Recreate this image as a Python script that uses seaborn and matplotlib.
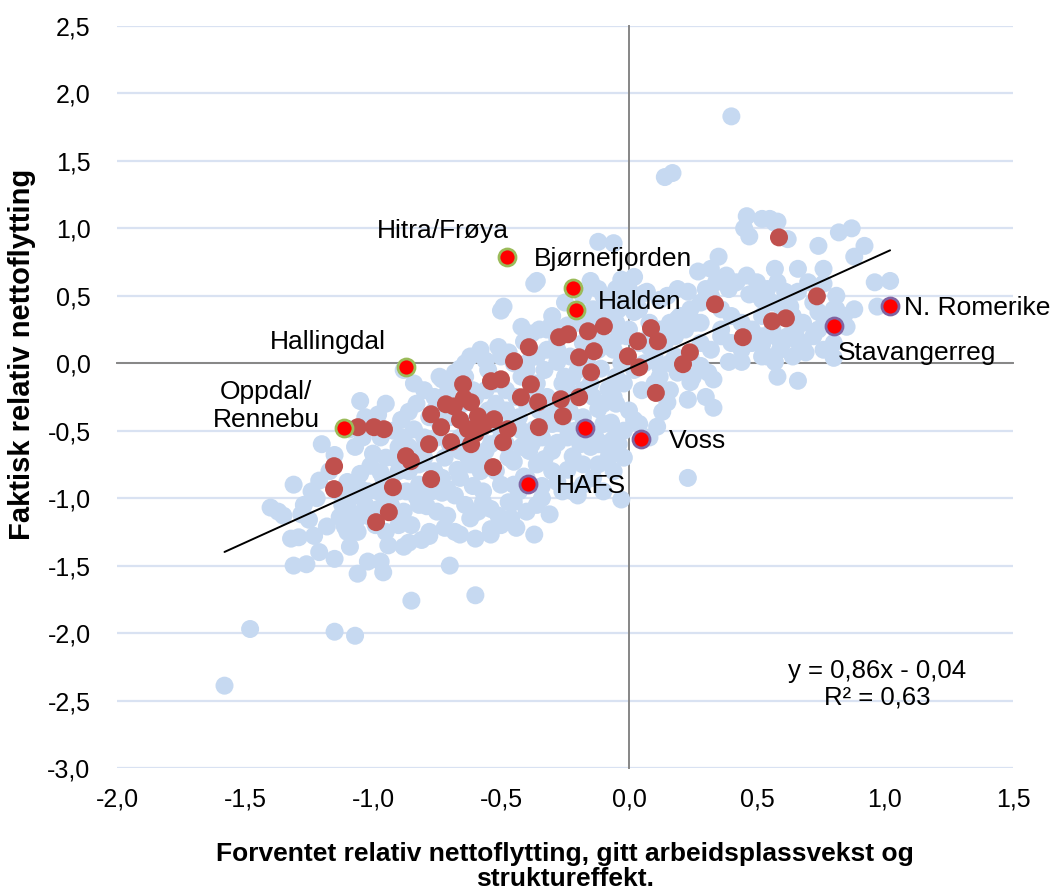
import numpy as np
import pandas as pd
import matplotlib
matplotlib.use("Agg")
import matplotlib.pyplot as plt
from matplotlib.ticker import FuncFormatter
import seaborn as sns

# ---------------- data ----------------
# all regions (light blue)
blue_x = [
    -1.58, -1.48, -1.15, -1.07, -0.85, -0.60, -0.70, -0.37, 0.40, 0.14,
    0.17, -1.40, -1.37, -1.31, -1.32, -1.29, -1.31, -1.26, -1.21, -1.22,
    -1.21, -1.23, -1.25, -1.28, -1.35, -1.24, -1.27, -1.20, -1.15, -1.18,
    -1.11, -1.13, -1.09, -1.09, -1.06, -1.06, -1.02, -1.05, -1.09, -1.05,
    -1.01, -1.01, -1.00, -1.17, -1.15, -1.14, -1.10, -1.12, -1.05, -1.03,
    -1.07, -1.04, -1.09, -1.03, -0.97, -0.96, -0.88, -0.86, -0.97, -0.90,
    -0.89, -0.84, -0.86, -0.83, -0.95, -0.93, -0.98, -0.90, -0.88, -0.85,
    -0.82, -0.80, -0.95, -0.97, -0.92, -0.86, -0.83, -0.80, -0.88, -0.84,
    -0.94, -0.90, -0.82, -0.99, -0.93, -0.87, -0.80, -0.81, -0.98, -0.95,
    -0.78, -0.78, -0.75, -0.79, -0.71, -0.68, -0.73, -0.66, -0.60, -0.68,
    -0.71, -0.63, -0.67, -0.71, -0.61, -0.76, -0.72, -0.75, -0.78, -0.74,
    -0.76, -0.70, -0.66, -0.64, -0.62, -0.68, -0.72, -0.66, -0.62, -0.64,
    -0.61, -0.65, -0.77, -0.73, -0.58, -0.51, -0.57, -0.51, -0.47, -0.54,
    -0.45, -0.41, -0.45, -0.42, -0.41, -0.49, -0.55, -0.52, -0.58, -0.56,
    -0.52, -0.50, -0.46, -0.43, -0.58, -0.55, -0.48, -0.45, -0.42, -0.50,
    -0.57, -0.54, -0.44, -0.48, -0.53, -0.43, -0.59, -0.47, -0.34, -0.24,
    -0.22, -0.28, -0.33, -0.37, -0.31, -0.23, -0.28, -0.38, -0.35, -0.30,
    -0.36, -0.15, -0.42, -0.32, -0.66, -0.73, -0.37, -0.33, -0.25, -0.22,
    -0.39, -0.30, -0.26, -0.36, -0.31, -0.21, -0.35, -0.28, -0.23, -0.38,
    -0.26, -0.15, -0.08, -0.03, -0.12, -0.08, -0.11, -0.06, -0.12, -0.06,
    0.02, -0.03, -0.05, -0.02, -0.10, -0.16, -0.18, -0.12, -0.05, -0.03,
    -0.15, -0.18, -0.10, -0.05, -0.02, -0.12, -0.06, -0.18, -0.10, -0.02,
    -0.20, -0.05, -0.14, -0.08, -0.01, -0.19, -0.13, -0.06, -0.08, 0.11,
    0.23, 0.35, 0.32, 0.27, 0.57, 0.47, 0.50, 0.39, 0.19, 0.23,
    0.15, 0.02, 0.19, 0.28, 0.36, 0.52, 0.44, 0.39, 0.31, 0.28,
    0.33, 0.24, 0.19, 0.23, 0.15, 0.13, -0.07, 0.02, 0.52, 0.62,
    0.66, 0.57, 0.58, 0.55, 0.58, 0.74, 0.82, 0.87, 0.92, 0.88,
    0.76, 0.61, 0.66, 0.52, 0.76, 0.81, 0.96, 1.02, 0.97, 0.74,
    0.81, 0.85, 0.74, 0.63, 0.65, 0.66, 0.69, 0.58, 0.59, 0.54,
    0.80, 0.46, 0.45, 0.52, 0.47, 0.57, 0.62, 0.33, 0.30, 0.10,
    -0.40, -0.36, -0.32, -0.28, -0.24, -0.20, -0.16, -0.12, -0.08, -0.04,
    0.00, 0.04, 0.08, 0.12, 0.16, 0.20, 0.24, 0.28, 0.32, 0.36,
    0.40, 0.44, 0.48, 0.52, 0.56, 0.60, 0.64, 0.68, 0.72, 0.70,
    0.66, 0.58, 0.54, 0.50, 0.46, 0.42, 0.38, 0.34, 0.30, 0.26,
    0.22, 0.18, 0.14, 0.10, 0.06, 0.02, -0.02, -0.06, -0.10, -0.14,
    -0.18, -0.22, -0.26, -0.30, -0.34, -0.38, -0.42, -0.46, -0.50, -0.54,
    -0.58, -0.62, -0.66, -0.70, -0.74, -0.78, -0.82, -0.86, -0.90, -0.94,
    -0.98, -1.02, -1.06, -1.10, -0.96, -0.92, -0.88, -0.84, -0.76, -0.72,
    -0.68, -0.64, -0.60, -0.56, -0.52, -0.48, -0.44, -0.40, -0.36, -0.32,
    -0.28, -0.24, -0.20, -0.16, -0.12, -0.08, -0.04, 0.00, 0.04, 0.08,
    0.12, 0.16, 0.20, 0.24, 0.28, 0.32, 0.36, 0.40, 0.44, 0.48,
    0.52, 0.56, 0.60, 0.64, 0.68, 0.72, 0.76, 0.80, 0.84, 0.88,
    0.76, 0.80, -0.40, -0.36, -0.30, -0.24, -0.18, -0.14, -0.08, -0.04,
    -0.28, -0.22, -0.45, -0.40, -0.34, -0.50, -0.54, -0.12, 0.00, 0.04,
    0.08, -0.25, -0.18, -0.12, -0.06, 0.00, 0.06, -0.30, -0.37, -0.14,
    -0.50, 0.07, 0.12, 0.05, 0.12, 0.18, 0.25, 0.08, 0.16, -0.62,
    -0.56, -0.47, -0.40,
]
blue_y = [
    -2.39, -1.97, -1.99, -2.02, -1.76, -1.72, -1.50, -1.27, 1.83, 1.38,
    1.41, -1.07, -1.10, -0.90, -1.30, -1.29, -1.50, -1.49, -0.87, -1.00,
    -1.40, -1.28, -1.16, -1.12, -1.13, -0.95, -1.05, -0.60, -1.45, -1.21,
    -1.21, -1.14, -1.10, -1.36, -1.25, -1.56, -1.47, -0.28, -1.00, -0.93,
    -1.14, -0.76, -0.67, -0.80, -0.68, -0.95, -0.88, -1.05, -0.82, -1.05,
    -0.62, -0.55, -0.49, -0.40, -1.47, -1.55, -1.36, -1.33, -0.81, -0.62,
    -0.42, -0.49, -0.36, -0.99, -1.25, -1.05, -0.95, -0.80, -1.10, -1.20,
    -0.90, -0.70, -0.70, -0.55, -0.50, -0.62, -0.30, -0.20, -0.05, -0.15,
    -1.35, -1.20, -1.05, -1.20, -0.88, -0.95, -0.55, -1.31, -0.38, -0.30,
    -1.25, -1.28, -1.10, -1.06, -1.13, -1.25, -0.96, -1.27, -1.30, -0.07,
    -0.22, -0.69, -0.79, -0.93, -0.91, -0.80, -0.70, -0.55, -0.40, -0.10,
    -0.25, -0.40, -0.55, -1.05, -1.15, -0.98, -1.22, -0.85, -0.45, 0.00,
    -0.20, -0.30, -0.95, -0.85, 0.10, 0.12, -1.03, -1.13, -1.03, -1.23,
    -1.03, -0.84, -0.73, -0.62, 0.16, 0.42, -0.05, -0.15, -0.50, -0.65,
    -0.80, -0.90, -1.15, -0.95, -0.80, -0.35, -0.20, 0.00, -0.10, 0.05,
    -0.95, -1.08, -1.22, -0.60, -0.45, -0.40, -1.10, -0.70, -0.91, -0.79,
    -0.69, -0.59, -0.71, -0.49, -0.39, -0.36, 0.01, 0.22, 0.25, 0.30,
    0.61, 0.61, 0.27, 0.25, -0.04, -0.12, -0.20, -0.05, -0.10, -0.25,
    -0.65, -0.80, -0.95, -1.05, -1.12, -0.50, -0.35, 0.10, 0.05, 0.08,
    -0.45, -0.62, -0.59, -1.01, -0.34, -0.19, -0.04, 0.10, 0.90, 0.89,
    0.64, 0.62, 0.55, 0.45, 0.50, 0.35, 0.15, 0.20, 0.30, 0.00,
    -0.15, -0.40, -0.45, -0.30, -0.50, -0.75, -0.80, -0.90, -0.95, -0.70,
    -0.98, -0.10, 0.40, 0.35, 0.20, -0.60, -0.55, -0.56, -0.64, -0.47,
    -0.85, 0.79, 0.70, 0.68, 0.70, 0.51, 0.51, 0.55, 0.55, 0.53,
    0.50, 0.38, 0.33, 0.30, 0.25, 0.05, 0.01, 0.01, -0.07, -0.02,
    -0.12, -0.14, -0.07, -0.27, -0.29, -0.36, -0.44, -0.42, 0.14, 0.20,
    -0.13, 0.01, -0.10, 1.07, 1.05, 0.87, 0.97, 1.00, 0.87, 0.79,
    0.70, 0.53, 0.53, 0.47, 0.59, 0.50, 0.60, 0.61, 0.42, 0.38,
    0.40, 0.27, 0.25, 0.42, 0.23, 0.16, 0.08, 0.19, 0.10, 0.05,
    0.04, 1.09, 1.00, 1.07, 0.94, 1.04, 0.92, -0.33, -0.25, -0.15,
    -0.30, -0.15, -0.25, -0.35, -0.20, -0.05, 0.05, 0.10, 0.15, 0.20,
    0.25, 0.15, 0.20, 0.25, 0.30, 0.35, 0.40, 0.45, 0.50, 0.40,
    0.35, 0.30, 0.25, 0.35, 0.45, 0.40, 0.35, 0.30, 0.45, 0.60,
    0.70, 0.60, 0.55, 0.60, 0.65, 0.60, 0.65, 0.60, 0.55, 0.30,
    0.25, 0.20, 0.15, 0.05, 0.00, -0.05, -0.15, -0.25, -0.30, -0.25,
    -0.20, -0.10, -0.15, -0.45, -0.55, -0.60, -0.50, -0.45, -0.55, -0.60,
    -0.70, -0.75, -0.65, -0.60, -0.45, -0.60, -0.75, -0.80, -0.95, -1.00,
    -1.08, -0.95, -1.15, -1.25, -0.85, -0.70, -0.55, -0.65, -0.35, -0.30,
    -0.15, -0.10, -0.25, -0.20, -0.30, -0.35, -0.25, -0.05, 0.05, 0.10,
    0.18, 0.28, 0.30, 0.22, 0.30, 0.45, 0.40, 0.45, 0.40, 0.30,
    -0.10, -0.20, -0.05, 0.05, 0.15, 0.10, 0.20, 0.15, 0.10, 0.15,
    0.20, 0.25, 0.15, 0.05, 0.15, 0.20, 0.10, 0.15, 0.35, 0.40,
    0.35, 0.40, -0.85, -0.75, -0.65, -0.55, -0.75, -0.85, -0.70, -0.60,
    -0.88, -0.95, -0.90, -1.10, -1.00, -1.20, -1.27, -0.60, -0.35, -0.45,
    -0.55, 0.45, 0.50, 0.55, 0.50, 0.55, 0.52, 0.35, 0.59, 0.57,
    0.39, 0.53, 0.47, -0.20, -0.02, 0.05, -0.10, 0.12, 0.00, 0.05,
    0.02, 0.08, 0.00,
]

# selected group (dark red)
red_x = [
    0.586, 0.336, 0.734, 0.445, 0.559, 0.613, 0.238, 0.211, 0.105, 0.086,
    0.113, 0.035, -0.004, 0.040, -0.098, -0.160, -0.238, -0.273, -0.137, -0.195,
    -0.148, -0.391, -0.449, -0.539, -0.500, -0.383, -0.422, -0.355, -0.266, -0.195,
    -0.258, -0.352, -0.648, -0.715, -0.684, -0.617, -0.590, -0.570, -0.629, -0.617,
    -0.695, -0.773, -0.734, -0.527, -0.492, -0.473, -0.531, -0.781, -0.871, -0.852,
    -0.922, -0.773, -0.957, -0.996, -1.059, -1.152, -1.152, -0.988, -0.938, -0.660,
    -0.600, -0.645,
]
red_y = [
    0.933, 0.437, 0.496, 0.193, 0.311, 0.333, 0.081, -0.007, -0.220, 0.260,
    0.163, 0.163, 0.052, -0.030, 0.274, 0.237, 0.215, 0.193, 0.089, 0.044,
    -0.067, 0.119, 0.015, -0.133, -0.119, -0.156, -0.252, -0.289, -0.267, -0.252,
    -0.393, -0.474, -0.156, -0.304, -0.320, -0.290, -0.393, -0.467, -0.489, -0.600,
    -0.585, -0.378, -0.474, -0.415, -0.585, -0.489, -0.770, -0.600, -0.689, -0.726,
    -0.919, -0.859, -0.489, -0.474, -0.474, -0.763, -0.933, -1.178, -1.104, -0.420,
    -0.520, -0.260,
]

# highlighted regions (bright red)
hl_x = [-0.477, -0.219, -0.207, -0.871, -1.113, -0.395, -0.172, 0.047, 0.801, 1.020]
hl_y = [0.785, 0.556, 0.393, -0.030, -0.481, -0.896, -0.481, -0.563, 0.274, 0.422]
hl_group = ["g", "g", "g", "g", "g", "p", "p", "p", "p", "p"]
hl_labels = ["Hitra/Frøya", "Bjørnefjorden", "Halden", "Hallingdal", "Oppdal/\nRennebu",
             "HAFS", "", "Voss", "Stavangerreg", "N. Romerike"]

# trend line
slope = 0.86
intercept = -0.04
r2 = 0.63

x_ticks = [-2.0, -1.5, -1.0, -0.5, 0.0, 0.5, 1.0, 1.5]
y_ticks = [-3.0, -2.5, -2.0, -1.5, -1.0, -0.5, 0.0, 0.5, 1.0, 1.5, 2.0, 2.5]

x_title = "Forventet relativ nettoflytting, gitt arbeidsplassvekst og\nstruktureffekt."
y_title = "Faktisk relativ nettoflytting"

# ---------------- style ----------------
C_BLUE = "#C6D9F1"
C_DRED = "#C0504D"
C_RED = "#FF0000"
EDGE = {"g": "#9BBB59", "p": "#8064A2"}
C_AXIS = "#868686"
C_GRID = "#D9E2F2"

# label offsets in points (layout only)
label_offsets = [(-46, 19), (-28, 21), (16, 6), (-56, 18), (-56, 16),
                 (20, -1), (0, 0), (20, -1), (3, -19), (10, -1)]
label_ha = ["center", "left", "left", "center", "center",
            "left", "left", "left", "left", "left"]

sns.set_theme(style="white")
plt.rcParams["font.family"] = ["Liberation Sans", "DejaVu Sans"]
plt.rcParams["text.color"] = "black"
plt.rcParams["axes.labelcolor"] = "black"
plt.rcParams["xtick.color"] = "black"
plt.rcParams["ytick.color"] = "black"

fig = plt.figure(figsize=(10.52, 8.96), dpi=100)
ax = fig.add_axes([0.1112, 0.1429, 0.8517, 0.8281])

sns.scatterplot(x=blue_x, y=blue_y, color=C_BLUE, s=168, edgecolor="none",
                linewidth=0, ax=ax, zorder=3, legend=False)
sns.scatterplot(x=red_x, y=red_y, color=C_DRED, s=168, edgecolor="none",
                linewidth=0, ax=ax, zorder=4, legend=False)

# trend line
all_x = blue_x + red_x + hl_x
x_line = np.array([min(all_x), max(all_x)])
sns.lineplot(x=x_line, y=slope * x_line + intercept, color="black", lw=1.4,
             ax=ax, zorder=5, legend=False)

hl = pd.DataFrame({"x": hl_x, "y": hl_y, "g": hl_group})
for g, sub in hl.groupby("g"):
    sns.scatterplot(data=sub, x="x", y="y", color=C_RED, s=150,
                    edgecolor=EDGE[g], linewidth=2.0, ax=ax, zorder=6,
                    legend=False)

for lab, xx, yy, off, ha in zip(hl_labels, hl_x, hl_y, label_offsets, label_ha):
    if lab:
        ax.annotate(lab, xy=(xx, yy), xytext=off, textcoords="offset points",
                    ha=ha, va="center", fontsize=19, color="black",
                    multialignment="center", zorder=7)

sign = "-" if intercept < 0 else "+"
eq = f"y = {slope:.2f}x {sign} {abs(intercept):.2f}\nR² = {r2:.2f}".replace(".", ",")
ax.text(0.848, 0.113, eq, transform=ax.transAxes, ha="center", va="center",
        fontsize=18.5, linespacing=1.1, zorder=7, color="black")

ax.set_xlim(x_ticks[0], x_ticks[-1])
ax.set_ylim(y_ticks[0], y_ticks[-1])
ax.set_xticks(x_ticks)
ax.set_yticks(y_ticks)

ax.set_axisbelow(True)
ax.yaxis.grid(True, color=C_GRID, lw=1.6)
ax.xaxis.grid(False)

for s in ["top", "right"]:
    ax.spines[s].set_visible(False)
for s in ["left", "bottom"]:
    ax.spines[s].set_position(("data", 0))
    ax.spines[s].set_color(C_AXIS)
    ax.spines[s].set_linewidth(1.4)
    ax.spines[s].set_zorder(2)
ax.tick_params(axis="both", direction="out", length=4, width=1.2,
               color=C_AXIS, labelleft=False, labelbottom=False)

fmt = FuncFormatter(lambda v, p: f"{round(v, 1) + 0.0:.1f}".replace(".", ","))

sy = ax.secondary_yaxis("left")
sy.set_yticks(y_ticks)
sy.yaxis.set_major_formatter(fmt)
sy.tick_params(length=0, pad=19, labelsize=18, labelcolor="black")
sy.spines["left"].set_visible(False)

sx = ax.secondary_xaxis("bottom")
sx.set_xticks(x_ticks)
sx.xaxis.set_major_formatter(fmt)
sx.tick_params(length=0, pad=14, labelsize=18, labelcolor="black")
sx.spines["bottom"].set_visible(False)

ax.set_xlabel(x_title, fontsize=19, fontweight="bold", linespacing=1.05,
              color="black")
ax.xaxis.set_label_coords(0.5, -0.100)
ax.set_ylabel(y_title, fontsize=21, fontweight="bold", color="black")
ax.yaxis.set_label_coords(-0.090, 0.557)

fig.savefig("out.png", dpi=100)
